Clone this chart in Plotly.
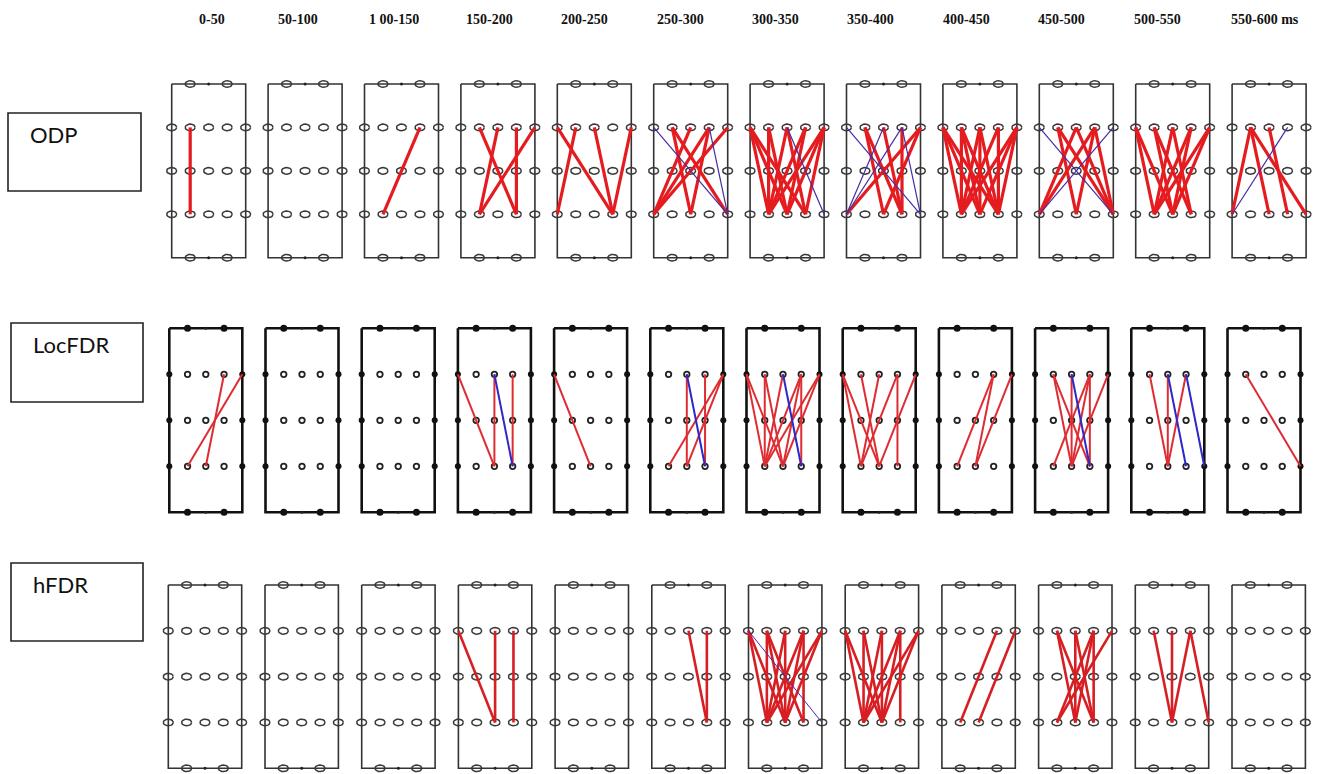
import numpy as np
import plotly.graph_objects as go

# ---------------- data ----------------
windows = ["0-50", "50-100", "1 00-150", "150-200", "200-250", "250-300",
           "300-350", "350-400", "400-450", "450-500", "500-550", "550-600 ms"]
methods = ["ODP", "LocFDR", "hFDR"]

# electrode montage: name -> (column index 0..4, row index 0..4)
montage_names = ["T1", "T3",
                 "A0", "A1", "A2", "A3", "A4",
                 "B0", "B1", "B2", "B3", "B4",
                 "C0", "C1", "C2", "C3", "C4",
                 "Z1", "Z3"]
montage_cols = [1, 3, 0, 1, 2, 3, 4, 0, 1, 2, 3, 4, 0, 1, 2, 3, 4, 1, 3]
montage_rows = [0, 0, 1, 1, 1, 1, 1, 2, 2, 2, 2, 2, 3, 3, 3, 3, 3, 4, 4]

# significant positive (red) and negative (blue) connections per time window
odp_pos = [
    ["A1-C1"],
    [],
    ["A3-C1"],
    ["A1-C3", "A2-C1", "A3-C3", "A4-C1"],
    ["A0-C3", "A1-C0", "A2-C3", "A4-C3"],
    ["A2-C0", "A3-C0", "A4-C0", "A1-C2", "A1-C4", "A3-C2"],
    ["A0-C1", "A0-C2", "A0-C3", "A1-C1", "A1-C2", "A2-C1", "A2-C3", "A3-C1",
     "A3-C2", "A4-C1", "A4-C2", "A4-C3"],
    ["A1-C2", "A1-C3", "A4-C0", "A4-C2", "A3-C3", "A2-C3"],
    ["A0-C1", "A0-C2", "A0-C3", "A1-C1", "A1-C2", "A1-C3", "A2-C1", "A2-C2",
     "A2-C3", "A3-C1", "A3-C3", "A4-C1", "A4-C2", "A4-C3"],
    ["A3-C0", "A2-C0", "A1-C2", "A1-C4", "A3-C2", "A3-C4", "A2-C4"],
    ["A0-C1", "A0-C2", "A1-C2", "A1-C3", "A2-C1", "A2-C3", "A3-C1", "A3-C2",
     "A4-C1", "A4-C2"],
    ["A1-C0", "A1-C2", "A1-C4", "A2-C3"],
]
odp_neg = [[], [], [], [], [], ["A0-C4", "A3-C4"], ["A2-C4"],
           ["A0-C4", "A2-C0", "A3-C0", "A3-C4"],
           [], ["A0-C4", "A4-C0"], [], ["A3-C0"]]

locfdr_pos = [
    ["A3-C2", "A4-C1"],
    [],
    [],
    ["A0-C2", "A2-C2", "A3-C3"],
    ["A0-C2"],
    ["A2-C2", "A3-C3", "A4-C1", "A4-C2"],
    ["A0-C1", "A0-C2", "A1-C1", "A1-C2", "A2-C1", "A3-C1", "A3-C2", "A3-C3",
     "A4-C1", "A4-C2"],
    ["A0-C1", "A0-C2", "A1-C2", "A2-C1", "A3-C1", "A3-C3", "A4-C2"],
    ["A3-C1", "A3-C2", "A4-C2"],
    ["A1-C2", "A1-C3", "A2-C2", "A3-C1", "A3-C2", "A3-C3", "A4-C2"],
    ["A1-C2", "A2-C2", "A3-C2"],
    ["A1-C4"],
]
locfdr_neg = [[], [], [], ["A2-C3"], [], ["A2-C3"], ["A2-C3"], [], [],
              ["A2-C3"], ["A2-C3", "A3-C4"], []]

hfdr_pos = [
    [], [], [],
    ["A0-C2", "A2-C2", "A3-C3"],
    [],
    ["A2-C3", "A3-C3"],
    ["A0-C1", "A0-C2", "A1-C1", "A1-C2", "A1-C3", "A2-C1", "A2-C2", "A3-C1",
     "A3-C2", "A3-C3", "A4-C1", "A4-C2"],
    ["A0-C1", "A0-C2", "A1-C1", "A1-C2", "A2-C1", "A2-C2", "A3-C1", "A3-C2",
     "A3-C3", "A4-C1", "A4-C2"],
    ["A3-C1", "A4-C2"],
    ["A1-C2", "A1-C3", "A2-C2", "A2-C3", "A3-C1", "A3-C2", "A3-C3", "A4-C1"],
    ["A1-C2", "A2-C2", "A3-C2", "A3-C4"],
    [],
]
hfdr_neg = [[], [], [], [], [], [], ["A0-C4"], [], [], [], [], []]

# ---------------- layout geometry (pixels) ----------------
W, H = 1321, 774
row_geom = [  # left of first panel, panel step, panel width, top, bottom
    dict(left=171.7, step=96.4, width=74.0, top=84.0, bottom=257.7),
    dict(left=169.3, step=96.2, width=73.0, top=328.3, bottom=512.3),
    dict(left=168.3, step=96.7, width=73.4, top=585.0, bottom=768.3),
]
pos_lists = [odp_pos, locfdr_pos, hfdr_pos]
neg_lists = [odp_neg, locfdr_neg, hfdr_neg]
styles = [
    dict(frame="#333333", fw=1.6, red="rgb(228,28,32)", rw=3.2, blue="rgb(70,45,160)", bw=1.2),
    dict(frame="#111111", fw=2.6, red="rgb(222,45,50)", rw=2.0, blue="rgb(45,40,200)", bw=2.0),
    dict(frame="#333333", fw=1.6, red="rgb(215,30,35)", rw=2.6, blue="rgb(70,45,160)", bw=1.0),
]

mont = {n: (c, r) for n, c, r in zip(montage_names, montage_cols, montage_rows)}


def epos(g, c, name):
    col, row = mont[name]
    x0 = g["left"] + c * g["step"]
    return (x0 + col * g["width"] / 4.0,
            g["top"] + row * (g["bottom"] - g["top"]) / 4.0)


fig = go.Figure()
t = np.linspace(0, 2 * np.pi, 21)

for r, g in enumerate(row_geom):
    st = styles[r]
    fx, fy = [], []
    for c in range(len(windows)):
        x0 = g["left"] + c * g["step"]
        x1 = x0 + g["width"]
        fx += [x0, x1, x1, x0, x0, None]
        fy += [g["top"], g["top"], g["bottom"], g["bottom"], g["top"], None]
    fig.add_trace(go.Scatter(x=fx, y=fy, mode="lines",
                             line=dict(color=st["frame"], width=st["fw"]),
                             hoverinfo="skip", showlegend=False))

    # tiny midpoint dots on the top/bottom borders
    dx, dy = [], []
    for c in range(len(windows)):
        x0 = g["left"] + c * g["step"]
        dx += [x0 + g["width"] / 2] * 2
        dy += [g["top"], g["bottom"]]
    fig.add_trace(go.Scatter(x=dx, y=dy, mode="markers",
                             marker=dict(size=3, color="#222"),
                             hoverinfo="skip", showlegend=False))

    if r in (0, 2):
        ex, ey = [], []
        for c in range(len(windows)):
            for n in montage_names:
                cx, cy = epos(g, c, n)
                ex += list(cx + 5.0 * np.cos(t)) + [None]
                ey += list(cy + 3.3 * np.sin(t)) + [None]
        fig.add_trace(go.Scatter(x=ex, y=ey, mode="lines",
                                 line=dict(color="#3a3a3a", width=1.5),
                                 hoverinfo="skip", showlegend=False))
    else:
        ix, iy, ox, oy, tx, ty = [], [], [], [], [], []
        for c in range(len(windows)):
            for n in montage_names:
                cx, cy = epos(g, c, n)
                col, row = mont[n]
                if row in (0, 4):
                    tx.append(cx); ty.append(cy)
                elif col in (0, 4):
                    ox.append(cx); oy.append(cy)
                else:
                    ix.append(cx); iy.append(cy)
        fig.add_trace(go.Scatter(x=tx, y=ty, mode="markers",
                                 marker=dict(size=7, color="#111"),
                                 hoverinfo="skip", showlegend=False))
        fig.add_trace(go.Scatter(x=ox, y=oy, mode="markers",
                                 marker=dict(size=6, color="#111"),
                                 hoverinfo="skip", showlegend=False))
        fig.add_trace(go.Scatter(x=ix, y=iy, mode="markers",
                                 marker=dict(size=5.5, symbol="circle-open",
                                             color="#222", line=dict(width=1.8)),
                                 hoverinfo="skip", showlegend=False))

    # connections
    for conns, col, wid in ((pos_lists[r], st["red"], st["rw"]),
                            (neg_lists[r], st["blue"], st["bw"])):
        lx, ly = [], []
        for c, lst in enumerate(conns):
            for pair in lst:
                a, b = pair.split("-")
                xa, ya = epos(g, c, a)
                xb, yb = epos(g, c, b)
                lx += [xa, xb, None]
                ly += [ya, yb, None]
        fig.add_trace(go.Scatter(x=lx, y=ly, mode="lines",
                                 line=dict(color=col, width=wid),
                                 hoverinfo="skip", showlegend=False))

annotations = []
# header labels
for c, lab in enumerate(windows):
    xc = 203 + 95.4 * c
    if c == 0:
        xc = 212
    if lab.endswith("ms"):
        xc += 13
    annotations.append(dict(x=xc, y=19, text=lab, showarrow=False,
                            xref="x", yref="y", xanchor="center", yanchor="middle",
                            font=dict(family="Liberation Serif", size=14,
                                      color="#111", weight="bold")))

# method label boxes
box_geom = [(8, 113, 141, 191), (11, 323, 143, 402), (11, 563, 143, 641)]
shapes = []
for m, (bx0, by0, bx1, by1) in zip(methods, box_geom):
    shapes.append(dict(type="rect", xref="x", yref="y", x0=bx0, x1=bx1, y0=by0, y1=by1,
                       line=dict(color="#222", width=1.6), fillcolor="rgba(0,0,0,0)"))
    annotations.append(dict(x=bx0 + 20, y=by0 + 21, text=m, showarrow=False,
                            xref="x", yref="y", xanchor="left", yanchor="middle",
                            font=dict(family="Lato", size=22, color="#111")))

fig.update_layout(
    width=W, height=H,
    margin=dict(l=0, r=0, t=0, b=0),
    paper_bgcolor="white", plot_bgcolor="white",
    xaxis=dict(range=[0, W], visible=False, fixedrange=True),
    yaxis=dict(range=[H, 0], visible=False, fixedrange=True),
    shapes=shapes, annotations=annotations,
)

# remove the default 8px page margin so the figure sits at the window origin
fig.write_html("out.html",
               config={"displayModeBar": False, "staticPlot": True},
               post_script="document.body.style.margin='0';document.body.style.overflow='hidden';")
